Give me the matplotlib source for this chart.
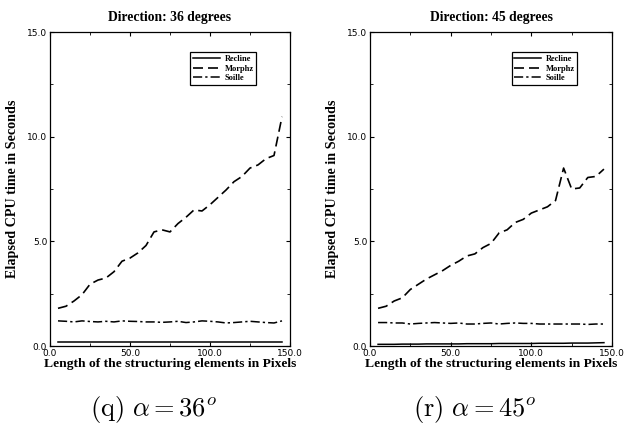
import numpy as np
import matplotlib
matplotlib.use('Agg')
import matplotlib.pyplot as plt
from matplotlib.ticker import MultipleLocator, FormatStrFormatter

plt.rcParams['mathtext.fontset'] = 'cm'

# structuring element lengths (pixels)
lengths = list(range(5, 150, 5))

# direction 36 degrees
recline_36 = [0.2] * len(lengths)
morphz_36 = [1.8, 1.9, 2.15, 2.45, 2.95, 3.15, 3.25, 3.55, 4.05, 4.2,
             4.45, 4.8, 5.45, 5.55, 5.45, 5.85, 6.15, 6.5, 6.45, 6.75,
             7.1, 7.45, 7.85, 8.1, 8.5, 8.65, 8.95, 9.1, 10.95]
soille_36 = [1.2, 1.18, 1.15, 1.2, 1.17, 1.15, 1.18, 1.15, 1.2, 1.18,
             1.17, 1.15, 1.15, 1.13, 1.15, 1.18, 1.12, 1.15, 1.2, 1.18,
             1.15, 1.1, 1.12, 1.15, 1.18, 1.15, 1.12, 1.1, 1.2]

# direction 45 degrees
recline_45 = [0.08, 0.08, 0.08, 0.09, 0.09, 0.09, 0.1, 0.1, 0.1, 0.1,
              0.1, 0.11, 0.11, 0.11, 0.11, 0.12, 0.12, 0.12, 0.12, 0.12,
              0.13, 0.13, 0.13, 0.13, 0.14, 0.14, 0.14, 0.15, 0.16]
morphz_45 = [1.8, 1.9, 2.15, 2.3, 2.7, 2.95, 3.2, 3.4, 3.6, 3.85,
             4.05, 4.3, 4.4, 4.7, 4.9, 5.4, 5.55, 5.9, 6.05, 6.35,
             6.5, 6.65, 6.95, 8.5, 7.5, 7.55, 8.05, 8.1, 8.45]
soille_45 = [1.12, 1.12, 1.1, 1.1, 1.05, 1.08, 1.1, 1.12, 1.1, 1.08,
             1.1, 1.05, 1.05, 1.08, 1.1, 1.05, 1.08, 1.1, 1.08, 1.08,
             1.05, 1.05, 1.05, 1.05, 1.05, 1.05, 1.03, 1.05, 1.05]

panels = [
    ('Direction: 36 degrees', recline_36, morphz_36, soille_36, r'$\mathrm{(q)}\ \alpha = 36^o$'),
    ('Direction: 45 degrees', recline_45, morphz_45, soille_45, r'$\mathrm{(r)}\ \alpha = 45^o$'),
]

fig = plt.figure(figsize=(6.25, 4.23), dpi=100)
lefts = [50 / 625, 370 / 625]
widths = [240 / 625, 242 / 625]

serif = 'Liberation Serif'

for (title, rec, mor, soi, caption), left, width in zip(panels, lefts, widths):
    ax = fig.add_axes([left, 77 / 423, width, 314 / 423])
    ax.plot(lengths, rec, '-', color='black', lw=1.1, label='Recline')
    ax.plot(lengths, mor, color='black', lw=1.2, dashes=(6, 3), label='Morphz')
    ax.plot(lengths, soi, color='black', lw=1.1, dashes=(6, 2, 1.5, 2), label='Soille')

    ax.set_xlim(0, 150)
    ax.set_ylim(0, 15)
    ax.xaxis.set_major_locator(MultipleLocator(50))
    ax.xaxis.set_minor_locator(MultipleLocator(25))
    ax.yaxis.set_major_locator(MultipleLocator(5))
    ax.yaxis.set_minor_locator(MultipleLocator(2.5))
    ax.xaxis.set_major_formatter(FormatStrFormatter('%.1f'))
    ax.yaxis.set_major_formatter(FormatStrFormatter('%.1f'))
    ax.tick_params(which='both', direction='in', top=True, right=True,
                   labelsize=6.5, pad=2)
    ax.tick_params(which='major', length=3, width=0.8)
    ax.tick_params(which='minor', length=2, width=0.6)
    for s in ax.spines.values():
        s.set_linewidth(0.9)

    ax.set_title(title, fontfamily=serif, fontweight='bold', fontsize=9.8, pad=8)
    ax.set_xlabel('Length of the structuring elements in Pixels',
                  fontfamily=serif, fontweight='bold', fontsize=9.7, labelpad=0)
    ax.set_ylabel('Elapsed CPU time in Seconds',
                  fontfamily=serif, fontweight='bold', fontsize=10.2, labelpad=6)

    leg = ax.legend(loc='upper left', bbox_to_anchor=(0.585, 0.935),
                    prop={'family': serif, 'weight': 'bold', 'size': 6},
                    fancybox=False, edgecolor='black', framealpha=1,
                    handlelength=3.2, handletextpad=0.6, borderpad=0.3,
                    labelspacing=0.2, borderaxespad=0)
    leg.get_frame().set_linewidth(0.9)

    fig.text(left + width / 2 - 16 / 625, 14 / 423, caption, ha='center', va='center',
             fontsize=19)

fig.savefig('out.png', dpi=100)
